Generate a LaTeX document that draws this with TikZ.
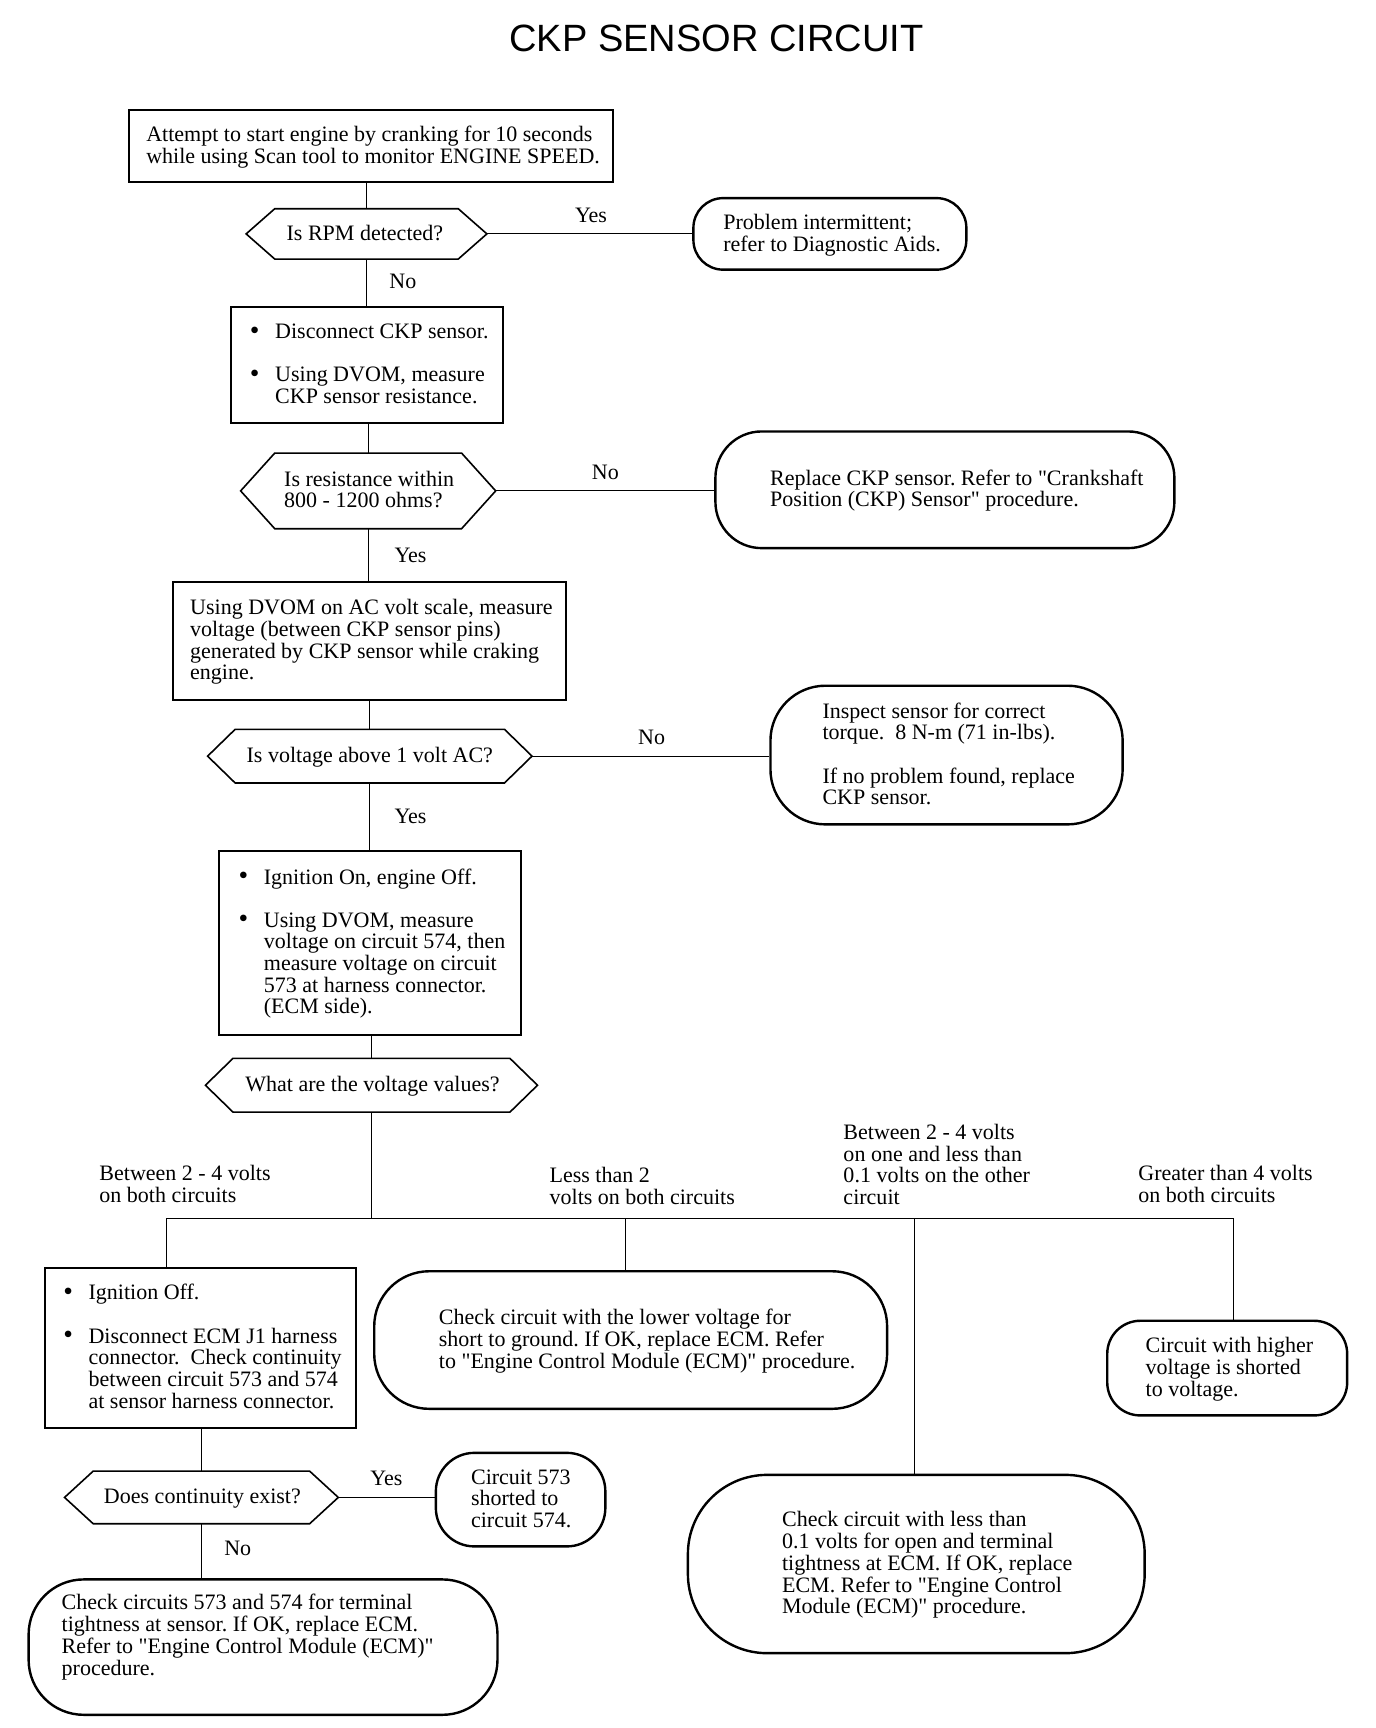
\documentclass[tikz,border=0pt]{standalone}
\usepackage{fontspec}
\setmainfont{Liberation Serif}[Ligatures=TeXOff]
\newfontfamily\titlefont{Liberation Sans}
\usetikzlibrary{calc}
\frenchspacing
\newcommand\bul{\makebox[12.6pt][l]{\raisebox{-0.3pt}{\scalebox{1.25}{\textbullet}}}}
\newcommand\ind{\hspace*{12.6pt}}
% text block shifted by #1 (right) and 1pt down without changing node size
\newcommand\tx[2]{\hspace*{#1}\raisebox{-0.9pt}[\height][\depth]{\begin{tabular}{@{}l@{}}#2\end{tabular}}\hspace*{-#1}}
% shape node from corner coordinates (displayed px)
\newcommand\shapeat[7]{%
  \pgfmathsetmacro\shW{(#5-#3)*0.55}%
  \pgfmathsetmacro\shH{(#6-#4)*0.55}%
  \pgfmathsetmacro\shX{(#3+#5)/2}%
  \pgfmathsetmacro\shY{(#4+#6)/2}%
  \node[#1, minimum width=\shW pt, minimum height=\shH pt] (#2) at (\shX,\shY) {#7};}
\newcommand\hexdraw[2]{\draw[hexline] (#1.west) -- ([xshift=#2]#1.north west) -- ([xshift=-#2]#1.north east) -- (#1.east) -- ([xshift=-#2]#1.south east) -- ([xshift=#2]#1.south west) -- cycle;}
\tikzset{
  every node/.style={font=\fontsize{11}{10.7}\selectfont},
  framebox/.style={draw, line width=1pt, inner sep=0pt},
  oval/.style={draw, line width=1.2pt, inner sep=0pt, rounded corners=#1},
  hexbase/.style={inner sep=0pt},
  hexline/.style={line width=0.8pt, line join=miter},
  link/.style={line width=0.6pt},
  lbl/.style={inner sep=0pt},
  branch/.style={inner sep=0pt, anchor=west},
}
\begin{document}
\begin{tikzpicture}[x=0.55pt,y=-0.55pt]
\fill[white] (0,0) rectangle (1250,1570);
\useasboundingbox (0,0) rectangle (1250,1570);

\node[lbl, font=\titlefont\fontsize{19}{22}\selectfont] (title) at (651,35) {CKP SENSOR CIRCUIT};

\shapeat{framebox}{b1}{117}{100}{557}{165}{\tx{1.1pt}{Attempt to start engine by cranking for 10 seconds\\while using Scan tool to monitor ENGINE SPEED.}}
\shapeat{hexbase}{h1}{224}{190}{442}{235}{\tx{-0.8pt}{Is RPM detected?}}
\hexdraw{h1}{14.3pt}
\shapeat{oval=14.85pt}{o1}{630}{180}{878}{245}{\tx{1.1pt}{Problem intermittent;\\refer to Diagnostic Aids.}}

\shapeat{framebox}{b2}{210}{279}{457}{384}{\tx{1.1pt}{\bul Disconnect CKP sensor.\\[10.7pt]\bul Using DVOM, measure\\\ind CKP sensor resistance.}}
\shapeat{hexbase}{h2}{219}{412}{450}{480}{\tx{0.5pt}{Is resistance within\\800 - 1200 ohms?}}
\hexdraw{h2}{17.05pt}
\shapeat{oval=23.1pt}{o2}{650}{392}{1067}{498}{\tx{6pt}{Replace CKP sensor. Refer to "Crankshaft\\Position (CKP) Sensor" procedure.}}

\shapeat{framebox}{b3}{157}{529}{514}{636}{\tx{1.1pt}{Using DVOM on AC volt scale, measure\\voltage (between CKP sensor pins)\\generated by CKP sensor while craking\\engine.}}
\shapeat{hexbase}{h3}{189}{663}{483}{711}{\tx{0pt}{Is voltage above 1 volt AC?}}
\hexdraw{h3}{13.75pt}
\shapeat{oval=27.5pt}{o3}{700}{623}{1020}{749}{\tx{1.1pt}{Inspect sensor for correct\\torque.\ \ 8 N-m (71 in-lbs).\\[10.7pt]If no problem found, replace\\CKP sensor.}}

\shapeat{framebox}{b4}{199}{773}{473}{940}{\tx{1.1pt}{\bul Ignition On, engine Off.\\[10.7pt]\bul Using DVOM, measure\\\ind voltage on circuit 574, then\\\ind measure voltage on circuit\\\ind 573 at harness connector.\\\ind (ECM side).}}
\shapeat{hexbase}{h4}{187}{962}{488}{1010}{\tx{0.5pt}{What are the voltage values?}}
\hexdraw{h4}{13.75pt}

\shapeat{framebox}{b5}{41}{1152}{323}{1297}{\tx{1.1pt}{\bul Ignition Off.\\[10.7pt]\bul Disconnect ECM J1 harness\\\ind connector.\ \ Check continuity\\\ind between circuit 573 and 574\\\ind at sensor harness connector.}}
\shapeat{oval=27.5pt}{o4}{340}{1155}{806}{1280}{\tx{8.25pt}{Check circuit with the lower voltage for\\short to ground. If OK, replace ECM. Refer\\to "Engine Control Module (ECM)" procedure.}}
\shapeat{oval=16.5pt}{o5}{1006}{1200}{1224}{1286}{\tx{1.1pt}{Circuit with higher\\voltage is shorted\\to voltage.}}
\shapeat{oval=39.6pt}{o6}{625}{1340}{1040}{1502}{\tx{5.5pt}{Check circuit with less than\\0.1 volts for open and terminal\\tightness at ECM. If OK, replace\\ECM. Refer to "Engine Control\\Module (ECM)" procedure.}}
\shapeat{hexbase}{h5}{59}{1337}{307}{1384}{\tx{0.5pt}{Does continuity exist?}}
\hexdraw{h5}{14.3pt}
\shapeat{oval=19.25pt}{o7}{396}{1320}{550}{1405}{\tx{0.3pt}{Circuit 573\\shorted to\\circuit 574.}}
\shapeat{oval=27.5pt}{o8}{26}{1435}{452}{1558}{\tx{-7.7pt}{Check circuits 573 and 574 for terminal\\tightness at sensor. If OK, replace ECM.\\Refer to "Engine Control Module (ECM)"\\procedure.\\\mbox{}}}

% branch labels
\node[branch] (l1) at (90,1077) {\tx{0pt}{Between 2 - 4 volts\\on both circuits}};
\node[branch] (l2) at (499,1079) {\tx{0pt}{Less than 2\\volts on both circuits}};
\node[branch] (l3) at (766,1059) {\tx{0pt}{Between 2 - 4 volts\\on one and less than\\0.1 volts on the other\\circuit}};
\node[branch] (l4) at (1034,1077) {\tx{0pt}{Greater than 4 volts\\on both circuits}};

% yes / no labels
\node[lbl] (y1) at (537,196) {Yes};
\node[lbl] (n1) at (366,256) {No};
\node[lbl] (n2) at (550,429) {No};
\node[lbl] (y2) at (373,505) {Yes};
\node[lbl] (n3) at (592,670) {No};
\node[lbl] (y3) at (373,742) {Yes};
\node[lbl] (y4) at (351,1343) {Yes};
\node[lbl] (n4) at (216,1407) {No};

% bus coordinates
\coordinate (d1) at (151,1107);
\coordinate (d2) at (568,1107);
\coordinate (d3) at (831,1107);
\coordinate (d4) at (1121,1107);

% connectors
\draw[link] (h1.north) -- (h1.north |- b1.south);
\draw[link] (h1.east) -- (h1.east -| o1.west);
\draw[link] (h1.south) -- (h1.south |- b2.north);
\draw[link] (h2.north) -- (h2.north |- b2.south);
\draw[link] (h2.east) -- (h2.east -| o2.west);
\draw[link] (h2.south) -- (h2.south |- b3.north);
\draw[link] (h3.north) -- (h3.north |- b3.south);
\draw[link] (h3.east) -- (h3.east -| o3.west);
\draw[link] (h3.south) -- (h3.south |- b4.north);
\draw[link] (h4.north) -- (h4.north |- b4.south);
\draw[link] (h4.south) -- (h4.south |- d1);
\draw[link] (d1) -- (d4);
\draw[link] (d1) -- (d1 |- b5.north);
\draw[link] (d2) -- (d2 |- o4.north);
\draw[link] (d3) -- (d3 |- o6.north);
\draw[link] (d4) -- (d4 |- o5.north);
\draw[link] (h5.north) -- (h5.north |- b5.south);
\draw[link] (h5.east) -- (h5.east -| o7.west);
\draw[link] (h5.south) -- (h5.south |- o8.north);
\end{tikzpicture}
\end{document}
